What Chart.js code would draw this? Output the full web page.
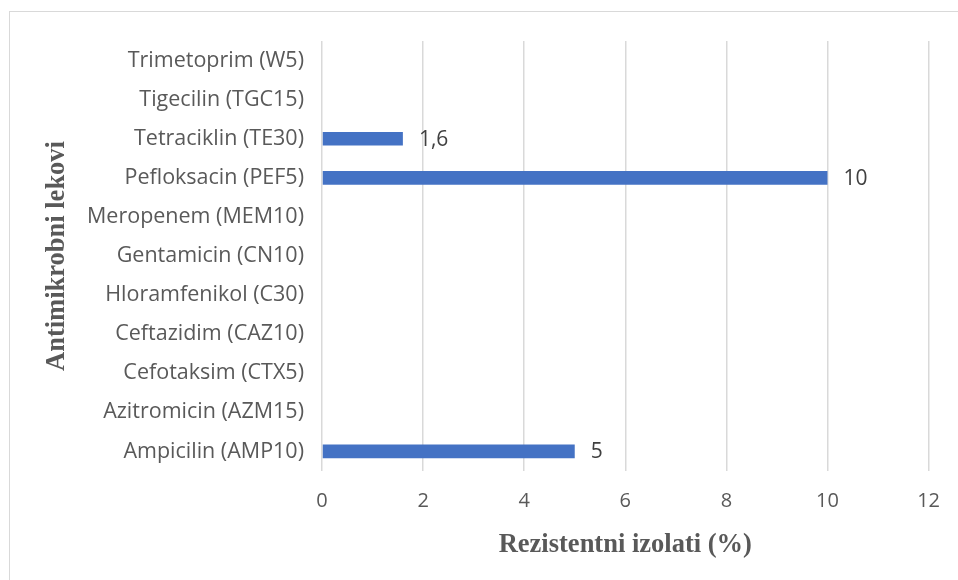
<!DOCTYPE html>
<html>
<head>
<meta charset="utf-8">
<script src="https://cdn.jsdelivr.net/npm/chart.js@4.4.1/dist/chart.umd.min.js"></script>
<style>
  html, body { margin: 0; padding: 0; background: #fff; }
  #wrap { position: relative; width: 958px; height: 580px; overflow: hidden; }
  #frame { position: absolute; left: 9px; top: 11px; width: 1000px; height: 600px; border: 1.5px solid #d9d9d9; box-sizing: border-box; }
  canvas { position: absolute; left: 0; top: 0; }
</style>
</head>
<body>
<div id="wrap">
  <div id="frame"></div>
  <canvas id="resChart" width="958" height="580"></canvas>
</div>
<script>
const drugs = [
  'Trimetoprim (W5)',
  'Tigecilin (TGC15)',
  'Tetraciklin (TE30)',
  'Pefloksacin (PEF5)',
  'Meropenem (MEM10)',
  'Gentamicin (CN10)',
  'Hloramfenikol (C30)',
  'Ceftazidim (CAZ10)',
  'Cefotaksim (CTX5)',
  'Azitromicin (AZM15)',
  'Ampicilin (AMP10)'
];
const resistance = [0, 0, 1.6, 10, 0, 0, 0, 0, 0, 0, 5];
const xTicks = [0, 2, 4, 6, 8, 10, 12];

const TEXT = '#595959';
const GRID = '#d9d9d9';
const LABEL_FONT = "'Open Sans', sans-serif";
const TITLE_FONT = "'Liberation Serif', serif";

// value labels after each non-zero bar, decimal comma
const barValues = {
  id: 'barValues',
  afterDatasetsDraw(chart) {
    const { ctx } = chart;
    const meta = chart.getDatasetMeta(0);
    ctx.save();
    ctx.font = '21px ' + LABEL_FONT;
    ctx.fillStyle = '#404040';
    ctx.textAlign = 'left';
    ctx.textBaseline = 'middle';
    meta.data.forEach((bar, i) => {
      const v = resistance[i];
      if (!v) return;
      ctx.fillText(String(v).replace('.', ','), bar.x + 16, bar.y + 1);
    });
    ctx.restore();
  }
};

new Chart(document.getElementById('resChart'), {
  type: 'bar',
  data: {
    labels: drugs,
    datasets: [{
      data: resistance,
      backgroundColor: '#4472c4',
      categoryPercentage: 0.35,
      barPercentage: 1
    }]
  },
  options: {
    indexAxis: 'y',
    responsive: false,
    animation: false,
    layout: { padding: { left: 36, right: 29, top: 41, bottom: 0 } },
    plugins: {
      legend: { display: false },
      tooltip: { enabled: false }
    },
    scales: {
      x: {
        min: 0,
        max: 12,
        afterBuildTicks: s => { s.ticks = xTicks.map(v => ({ value: v })); },
        afterFit: s => { s.height = 109; },
        grid: { color: GRID, lineWidth: 1.5, drawTicks: false },
        border: { display: false },
        ticks: { color: TEXT, font: { family: LABEL_FONT, size: 20 }, padding: 18 },
        title: {
          display: true,
          text: 'Rezistentni izolati (%)',
          color: TEXT,
          font: { family: TITLE_FONT, size: 26.5, weight: 'bold' },
          padding: { top: 0, bottom: 19 }
        }
      },
      y: {
        afterFit: s => { s.width = 286; },
        grid: { display: false, drawTicks: false },
        border: { display: false },
        ticks: { color: TEXT, font: { family: LABEL_FONT, size: 21.5 }, padding: 18 },
        title: {
          display: true,
          text: 'Antimikrobni lekovi',
          color: TEXT,
          font: { family: TITLE_FONT, size: 26.5, weight: 'bold' },
          padding: { top: 5, bottom: 0 }
        }
      }
    }
  },
  plugins: [barValues]
});
</script>
</body>
</html>
